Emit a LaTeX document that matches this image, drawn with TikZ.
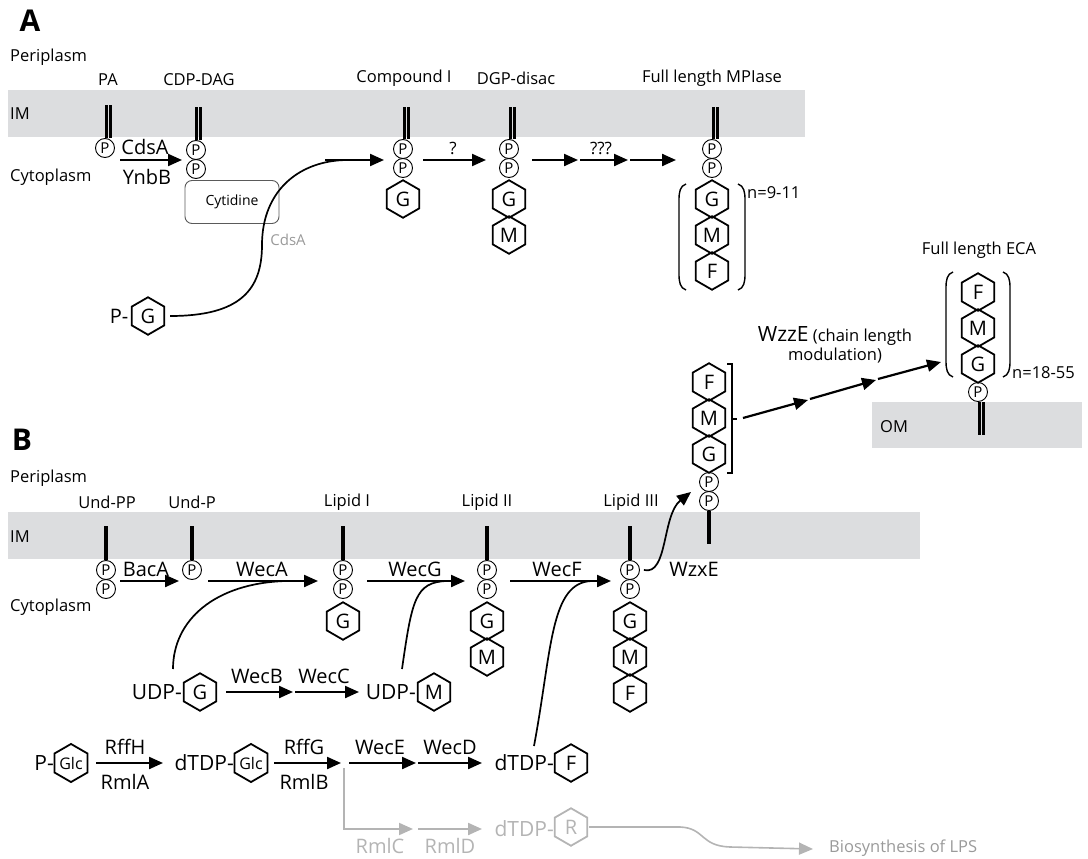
\documentclass[tikz,border=0pt]{standalone}
\usepackage{fontspec}
\setmainfont{Open Sans}
\usetikzlibrary{arrows.meta,shapes.geometric,calc}
\newcommand\fsz[1]{\fontsize{#1}{#1}\selectfont}
\definecolor{membgray}{HTML}{DCDDDF}
\definecolor{lgray}{HTML}{B4B4B4}
\definecolor{txtgray}{HTML}{9A9A9A}
\definecolor{boxgray}{HTML}{5A5A5A}
\tikzset{
 reg/.style={anchor=west, inner sep=0pt, font=\fsz{16.5}},
 lbl/.style={inner sep=0pt, font=\fsz{16.5}},
 enz/.style={inner sep=0pt, font=\fsz{20}},
 sub/.style={anchor=east, inner sep=0pt, font=\fsz{21}},
 pc/.style={circle, draw, line width=0.9pt, minimum size=19pt, inner sep=0pt, font=\fsz{15}},
 hex/.style={regular polygon, regular polygon sides=6, shape border rotate=90, draw, line width=1.8pt, minimum size=37.5pt, inner sep=0pt, font=\fsz{20}},
 ghex/.style={hex, draw=lgray, text=lgray},
 tip/.style={-{Triangle[length=14pt,width=12pt]}},
 arr/.style={line width=2.2pt, tip},
 garr/.style={arr, draw=lgray, color=lgray},
 curve/.style={line width=1.7pt},
 lipd/.style={line width=3pt},
 slip/.style={line width=3.2pt},
 paren/.style={line width=1.4pt},
}
\begin{document}
\begin{tikzpicture}[x=1pt,y=-1pt]
\useasboundingbox (0,0) rectangle (1088,859);
% membranes
\fill[membgray] (8,90) rectangle (805,137);
\fill[membgray] (8,512) rectangle (920,559);
\fill[membgray] (872,402) rectangle (1082,448);
% panel letters and regions
\node[font={\fsz{30}\bfseries}, inner sep=0pt] (lA) at (30,21) {A};
\node[font={\fsz{30}\bfseries}, inner sep=0pt] (lB) at (22,440) {B};
\node[reg] (peri1) at (10,57) {Periplasm};
\node[reg] (im1) at (10,114) {IM};
\node[reg] (cyto1) at (10,177) {Cytoplasm};
\node[reg] (peri2) at (10,478) {Periplasm};
\node[reg] (im2) at (10,537) {IM};
\node[reg] (cyto2) at (10,607) {Cytoplasm};
\node[reg] (om) at (880,427) {OM};

% ===== Panel A =====
\node[lbl] (tPA) at (108,80) {PA};
\node[pc] (pa1) at (105,148) {P};
\draw[lipd] ([xshift=1pt]pa1.north) -- ++(0,-33) ([xshift=5.2pt]pa1.north) -- ++(0,-33);
\coordinate (c1s) at (120,160); \coordinate (c1e) at (182,160);
\draw[arr] (c1s) -- (c1e);
\node[enz] (eCdsA) at (145,147) {CdsA};
\node[enz] (eYnbB) at (147,177) {YnbB};

\node[lbl] (tCDP) at (199,80) {CDP-DAG};
\node[pc] (cdp1) at (196,150) {P};
\node[pc] (cdp2) at (196,169) {P};
\draw[lipd] ([xshift=0pt]cdp1.north) -- ++(0,-33) ([xshift=4.2pt]cdp1.north) -- ++(0,-33);
\node[draw=boxgray, line width=0.9pt, rounded corners=7pt, minimum width=94pt, minimum height=43pt, inner sep=0pt, font=\fsz{14}] (cyt) at (232,202) {Cytidine};

\node[font=\fsz{20}, inner sep=0pt] (tPG) at (119,316) {P-};
\node[hex] (gA) at (148,316) {G};
\coordinate (cj) at (348,160);
\draw[curve] ([xshift=5pt]gA.east) .. controls (240,316) and (262,290) .. (262,245) .. controls (262,190) and (300,160) .. (cj);
\coordinate (a2s) at (325,160); \coordinate (a2e) at (384,160);
\draw[arr] (a2s) -- (a2e);
\node[font=\fsz{15}, text=txtgray, inner sep=0pt] (eCdsA2) at (288,240) {CdsA};

% Compound I
\node[lbl] (tC1) at (404,78) {Compound I};
\node[pc] (ci1) at (403,149) {P};
\node[pc] (ci2) at (403,168) {P};
\node[hex] (ciG) at (403,199) {G};
\draw[lipd] ([xshift=1pt]ci1.north) -- ++(0,-32) ([xshift=5.2pt]ci1.north) -- ++(0,-32);
\coordinate (q1s) at (423,160); \coordinate (q1e) at (486,160);
\draw[arr] (q1s) -- (q1e);
\node[font=\fsz{17}, inner sep=0pt] (tq1) at (453,148) {?};

% DGP-disac
\node[lbl] (tDGP) at (516,78) {DGP-disac};
\node[pc] (dg1) at (509,149) {P};
\node[pc] (dg2) at (509,168) {P};
\node[hex] (dgG) at (509,199) {G};
\node[hex] (dgM) at (509,235) {M};
\draw[lipd] ([xshift=1pt]dg1.north) -- ++(0,-32) ([xshift=5.2pt]dg1.north) -- ++(0,-32);
\coordinate (q2s) at (532,160); \coordinate (q2e) at (578,160);
\coordinate (q3s) at (580,160); \coordinate (q3e) at (628,160);
\coordinate (q4s) at (630,160); \coordinate (q4e) at (676,160);
\draw[arr] (q2s) -- (q2e);
\draw[arr] (q3s) -- (q3e);
\draw[arr] (q4s) -- (q4e);
\node[font=\fsz{17}, inner sep=0pt] (tq3) at (601,148) {???};

% Full length MPIase
\node[lbl] (tMPI) at (712,78) {Full length MPIase};
\node[pc] (mp1) at (712,149) {P};
\node[pc] (mp2) at (712,168) {P};
\node[hex] (mpG) at (712,199) {G};
\node[hex] (mpM) at (712,235) {M};
\node[hex] (mpF) at (712,271) {F};
\draw[lipd] ([xshift=1pt]mp1.north) -- ++(0,-32) ([xshift=5.2pt]mp1.north) -- ++(0,-32);
\draw[paren] (686,184) .. controls (680,186) and (679,192) .. (679,200) -- (679,274) .. controls (679,282) and (680,288) .. (686,290);
\draw[paren] (738,184) .. controls (744,186) and (745,192) .. (745,200) -- (745,274) .. controls (745,282) and (744,288) .. (738,290);
\node[anchor=west, inner sep=0pt, font=\fsz{16.5}] (tn1) at (747,193) {n=9-11};

% Full length ECA
\node[lbl] (tECA) at (979,250) {Full length ECA};
\node[hex] (eF) at (978,292) {F};
\node[hex] (eM) at (978,328) {M};
\node[hex] (eG) at (978,364) {G};
\node[pc] (ep) at (978,392) {P};
\draw[lipd] ([xshift=1pt]ep.south) -- ++(0,33) ([xshift=5.2pt]ep.south) -- ++(0,33);
\draw[paren] (953,272) .. controls (947,274) and (946,280) .. (946,288) -- (946,361) .. controls (946,369) and (947,375) .. (953,377);
\draw[paren] (1003,272) .. controls (1009,274) and (1010,280) .. (1010,288) -- (1010,361) .. controls (1010,369) and (1009,375) .. (1003,377);
\node[anchor=west, inner sep=0pt, font=\fsz{16.5}] (tn2) at (1012,373) {n=18-55};

% WzzE
\coordinate (w1s) at (743,418); \coordinate (w1e) at (808,400);
\coordinate (w2s) at (810,399); \coordinate (w2e) at (876,380);
\coordinate (w3s) at (878,379); \coordinate (w3e) at (941,362);
\draw[arr] (w1s) -- (w1e);
\draw[arr] (w2s) -- (w2e);
\draw[arr] (w3s) -- (w3e);
\node[align=center, inner sep=0pt, font=\fsz{16.5}] (tWzzE) at (835,345) {{\fsz{21}WzzE} (chain length\\[3pt]modulation)};

% ===== Panel B =====
\node[lbl] (tUPP) at (107,502) {Und-PP};
\node[pc] (u1) at (106,570) {P};
\node[pc] (u2) at (106,589) {P};
\draw[slip] (u1.north) -- ++(0,-34);
\coordinate (b1s) at (120,581); \coordinate (b1e) at (179,581);
\draw[arr] (b1s) -- (b1e);
\node[enz] (eBacA) at (146,569) {BacA};

\node[lbl] (tUP) at (192,502) {Und-P};
\node[pc] (up1) at (192,570) {P};
\draw[slip] (up1.north) -- ++(0,-34);
\coordinate (b2s) at (208,581); \coordinate (b2e) at (318,581);
\draw[arr] (b2s) -- (b2e);
\node[enz] (eWecA) at (262,569) {WecA};

\node[lbl] (tL1) at (347,502) {Lipid I};
\node[pc] (l1a) at (343,570) {P};
\node[pc] (l1b) at (343,589) {P};
\node[hex] (l1G) at (343,621) {G};
\draw[slip] (l1a.north) -- ++(0,-34);
\coordinate (b3s) at (367,581); \coordinate (b3e) at (465,581);
\draw[arr] (b3s) -- (b3e);
\node[enz] (eWecG) at (415,569) {WecG};

\node[lbl] (tL2) at (487,502) {Lipid II};
\node[pc] (l2a) at (487,570) {P};
\node[pc] (l2b) at (487,589) {P};
\node[hex] (l2G) at (487,621) {G};
\node[hex] (l2M) at (487,657) {M};
\draw[slip] (l2a.north) -- ++(0,-34);
\coordinate (b4s) at (510,581); \coordinate (b4e) at (611,581);
\draw[arr] (b4s) -- (b4e);
\node[enz] (eWecF) at (557,569) {WecF};

\node[lbl] (tL3) at (631,502) {Lipid III};
\node[pc] (l3a) at (630,570) {P};
\node[pc] (l3b) at (630,589) {P};
\node[hex] (l3G) at (630,621) {G};
\node[hex] (l3M) at (630,657) {M};
\node[hex] (l3F) at (630,693) {F};
\draw[slip] (l3a.north) -- ++(0,-34);

% translocated lipid III
\node[hex] (tF) at (709,382) {F};
\node[hex] (tM) at (709,418) {M};
\node[hex] (tG) at (709,454) {G};
\node[pc] (tp1) at (709,482) {P};
\node[pc] (tp2) at (709,501) {P};
\draw[slip] (tp2.south) -- ++(0,33);
\draw[line width=1.2pt] (727,364) -- (732,364) -- (732,473) -- (727,473);
\draw[line width=1.2pt] (732,419) -- (737,419);
\coordinate (wx) at (691,492);
\draw[curve, tip] ([xshift=4pt]l3a.east) .. controls (668,576) and (662,515) .. (wx);
\node[enz] (eWzxE) at (694,569) {WzxE};

% UDP row
\node[sub] (tUDP1) at (182,692) {UDP-};
\node[hex] (uG) at (200,692) {G};
\coordinate (c5s) at (226,692); \coordinate (c5e) at (293,692);
\coordinate (c6s) at (295,692); \coordinate (c6e) at (359,692);
\draw[arr] (c5s) -- (c5e);
\draw[arr] (c6s) -- (c6e);
\node[enz] (eWecB) at (257,676) {WecB};
\node[enz] (eWecC) at (324,676) {WecC};
\node[sub] (tUDP2) at (416,692) {UDP-};
\node[hex] (uM) at (434,692) {M};
\coordinate (s1) at (173,669);
\coordinate (s2) at (402,669);
\coordinate (s3) at (534,746);
\coordinate (j1) at (286,581);
\coordinate (j2) at (447,581);
\coordinate (j3) at (592,581);
\draw[curve] (s1) .. controls (173,620) and (215,583) .. (j1);
\draw[curve] (s2) .. controls (412,600) and (415,582) .. (j2);

% dTDP row
\node[sub] (tP2) at (54,763) {P-};
\node[hex, font=\fsz{16}] (glc1) at (71,763) {Glc};
\coordinate (d1s) at (96,763); \coordinate (d1e) at (163,763);
\draw[arr] (d1s) -- (d1e);
\node[enz] (eRffH) at (125,747) {RffH};
\node[enz] (eRmlA) at (125,782) {RmlA};
\node[sub] (tdTDP1) at (234,763) {dTDP-};
\node[hex, font=\fsz{16}] (glc2) at (251,763) {Glc};
\coordinate (d2s) at (274,763); \coordinate (d2e) at (341,763);
\draw[arr] (d2s) -- (d2e);
\node[enz] (eRffG) at (304,747) {RffG};
\node[enz] (eRmlB) at (304,782) {RmlB};
\coordinate (d3s) at (349,763); \coordinate (d3e) at (416,763);
\coordinate (d4s) at (418,763); \coordinate (d4e) at (482,763);
\draw[arr] (d3s) -- (d3e);
\draw[arr] (d4s) -- (d4e);
\node[enz] (eWecE) at (380,747) {WecE};
\node[enz] (eWecD) at (450,747) {WecD};
\node[sub] (tdTDP2) at (554,763) {dTDP-};
\node[hex] (dF) at (571,763) {F};
\draw[curve] (s3) .. controls (552,650) and (550,582) .. (j3);

% gray branch
\coordinate (g0) at (344,768);
\coordinate (g1) at (413,829);
\coordinate (g2s) at (418,829); \coordinate (g2e) at (482,829);
\draw[line width=2pt, draw=lgray, color=lgray, tip] (g0) |- (g1);
\draw[garr] (g2s) -- (g2e);
\node[enz, text=lgray] (eRmlC) at (380,846) {RmlC};
\node[enz, text=lgray] (eRmlD) at (450,846) {RmlD};
\node[sub, text=lgray] (tdTDP3) at (554,829) {dTDP-};
\node[ghex] (dR) at (571,827) {R};
\coordinate (lps) at (813,849);
\draw[line width=1.6pt, draw=lgray, color=lgray, tip] ([xshift=18pt]dR.center) -- (680,827) .. controls (705,828) and (700,846) .. (730,847) -- (lps);
\node[anchor=west, inner sep=0pt, font=\fsz{16.5}, text=txtgray] (tLPS) at (829,848) {Biosynthesis of LPS};
\end{tikzpicture}
\end{document}
